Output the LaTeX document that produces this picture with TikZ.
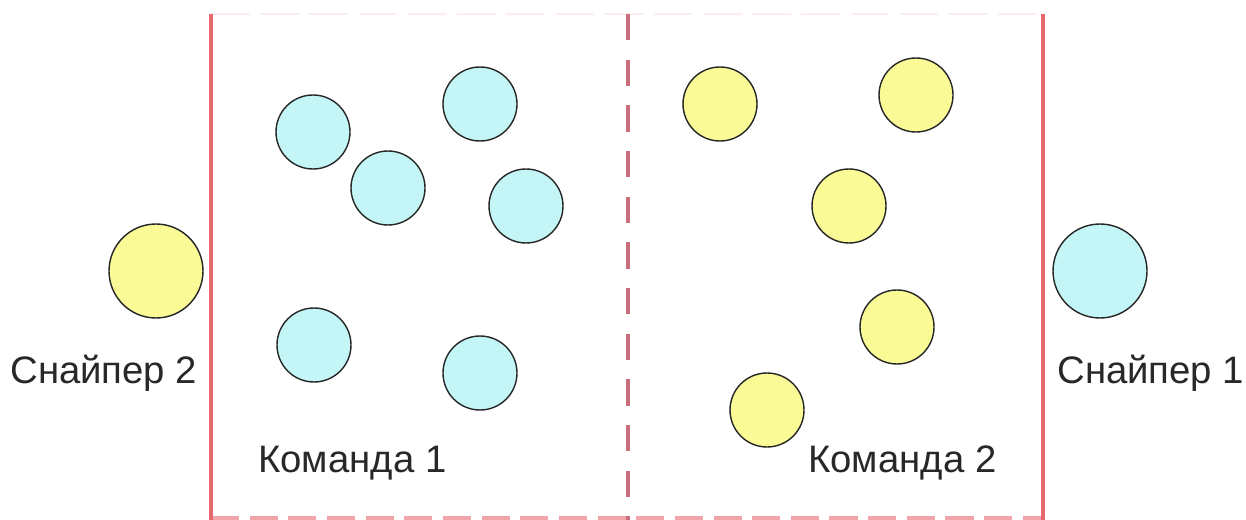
\documentclass[tikz,border=0pt]{standalone}
\usepackage{fontspec}
\setmainfont{Liberation Sans}
\definecolor{borderred}{RGB}{232,104,112}
\definecolor{midline}{RGB}{200,110,125}
\definecolor{teamblue}{RGB}{196,246,248}
\definecolor{teamyellow}{RGB}{250,250,150}
\definecolor{txt}{RGB}{40,40,40}
\begin{document}
\begin{tikzpicture}[x=0.02cm,y=-0.02cm,
  player/.style={circle,draw=black!85,line width=0.8pt,minimum size=74*0.02cm,inner sep=0pt},
  sniper/.style={circle,draw=black!85,line width=0.8pt,minimum size=94*0.02cm,inner sep=0pt},
  blueball/.style={fill=teamblue},
  yellowball/.style={fill=teamyellow},
  lbl/.style={text=txt,font=\fontsize{21.8}{26}\selectfont,inner sep=0pt}]
\useasboundingbox (0,0) rectangle (1246,520);
% field
\coordinate (tl) at (211,14);
\coordinate (bl) at (211,530);
\coordinate (tr) at (1043,14);
\coordinate (br) at (1043,530);
\coordinate (tm) at (628,14);
\coordinate (bm) at (628,530);
\coordinate (bbl) at (211,518);
\coordinate (bbr) at (1043,518);
\draw[borderred!12,line width=1.2pt,dash pattern=on 22pt off 6pt] (tl) -- (tr);
\draw[borderred!60,line width=2.6pt,dash pattern=on 16pt off 6pt] (bbl) -- (bbr);
\draw[borderred,line width=2.8pt] (tl) -- (bl);
\draw[borderred,line width=2.8pt] (tr) -- (br);
\draw[midline,line width=2.2pt,dash pattern=on 15pt off 11pt] (tm) -- (bm);
% team 1
\node[player,blueball] (b1) at (313,132) {};
\node[player,blueball] (b2) at (480,104) {};
\node[player,blueball] (b3) at (388,188) {};
\node[player,blueball] (b4) at (526,206) {};
\node[player,blueball] (b5) at (314,345) {};
\node[player,blueball] (b6) at (480,373) {};
% team 2
\node[player,yellowball] (y1) at (720,104) {};
\node[player,yellowball] (y2) at (916,95) {};
\node[player,yellowball] (y3) at (849,206) {};
\node[player,yellowball] (y4) at (897,327) {};
\node[player,yellowball] (y5) at (767,410) {};
% snipers
\node[sniper,yellowball] (s2) at (156,271) {};
\node[sniper,blueball] (s1) at (1100,271) {};
% labels
\node[lbl,anchor=west] (l2) at (10,373) {Снайпер 2};
\node[lbl,anchor=west] (l1) at (1057,373) {Снайпер 1};
\node[lbl,anchor=west] (k1) at (258,463) {Команда 1};
\node[lbl,anchor=west] (k2) at (808,463) {Команда 2};
\end{tikzpicture}
\end{document}
